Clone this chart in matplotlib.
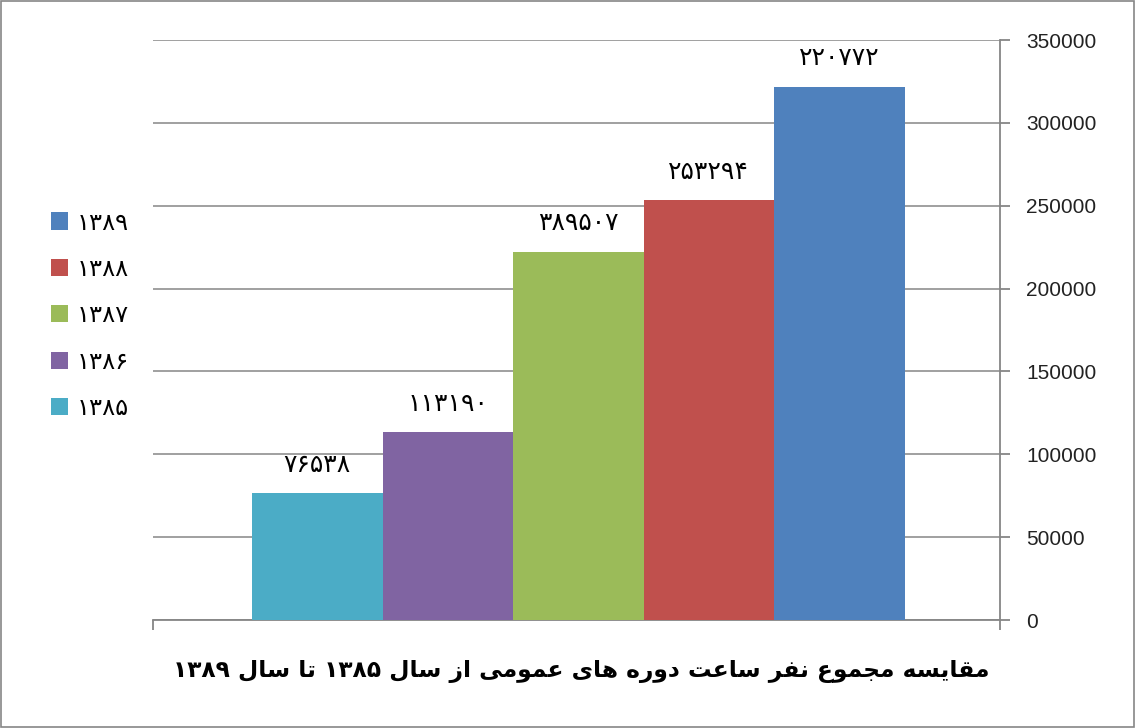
import matplotlib
matplotlib.use("Agg")
import matplotlib.pyplot as plt
from matplotlib.patches import Rectangle

years = ["۱۳۸۵", "۱۳۸۶", "۱۳۸۷", "۱۳۸۸", "۱۳۸۹"]
values = [76538, 113190, 222300, 253294, 321700]
bar_labels = ["۷۶۵۳۸", "۱۱۳۱۹۰", "۳۸۹۵۰۷", "۲۵۳۲۹۴", "۲۲۰۷۷۲"]
colors = ["#4BACC6", "#8064A2", "#9BBB59", "#C0504D", "#4F81BD"]
yticks = [0, 50000, 100000, 150000, 200000, 250000, 300000, 350000]
title = "مقایسه مجموع نفر ساعت دوره های عمومی از سال ۱۳۸۵ تا سال ۱۳۸۹"

# contextual forms: isolated, final, initial, medial (None = does not join forward)
FORMS = {
    "ا": (0xFE8D, 0xFE8E, None, None),
    "ت": (0xFE95, 0xFE96, 0xFE97, 0xFE98),
    "ج": (0xFE9D, 0xFE9E, 0xFE9F, 0xFEA0),
    "د": (0xFEA9, 0xFEAA, None, None),
    "ر": (0xFEAD, 0xFEAE, None, None),
    "ز": (0xFEAF, 0xFEB0, None, None),
    "س": (0xFEB1, 0xFEB2, 0xFEB3, 0xFEB4),
    "ع": (0xFEC9, 0xFECA, 0xFECB, 0xFECC),
    "ف": (0xFED1, 0xFED2, 0xFED3, 0xFED4),
    "ق": (0xFED5, 0xFED6, 0xFED7, 0xFED8),
    "ل": (0xFEDD, 0xFEDE, 0xFEDF, 0xFEE0),
    "م": (0xFEE1, 0xFEE2, 0xFEE3, 0xFEE4),
    "ن": (0xFEE5, 0xFEE6, 0xFEE7, 0xFEE8),
    "ه": (0xFEE9, 0xFEEA, 0xFEEB, 0xFEEC),
    "و": (0xFEED, 0xFEEE, None, None),
    "ی": (0xFBFC, 0xFBFD, 0xFBFE, 0xFBFF),
}


def shape_word(word):
    out = []
    for i, ch in enumerate(word):
        if ch not in FORMS:
            out.append(ch)
            continue
        prev = word[i - 1] if i > 0 else None
        nxt = word[i + 1] if i + 1 < len(word) else None
        join_prev = prev in FORMS and FORMS[prev][2] is not None
        join_next = nxt in FORMS and FORMS[ch][2] is not None
        iso, fin, ini, med = FORMS[ch]
        if join_prev and join_next:
            out.append(chr(med))
        elif join_prev:
            out.append(chr(fin))
        elif join_next:
            out.append(chr(ini))
        else:
            out.append(chr(iso))
    return "".join(out)


def rtl(text):
    words = []
    for w in text.split(" "):
        if any(ch in FORMS for ch in w):
            words.append(shape_word(w)[::-1])
        else:
            words.append(w)
    return " ".join(words[::-1])


fig = plt.figure(figsize=(11.36, 7.28), dpi=100)
ax = fig.add_axes([153 / 1136, 1 - 620 / 728, 847 / 1136, 580 / 728])

x = list(range(len(years)))
bars = []
for i in x:
    b = ax.bar(i, values[i], width=1.0, color=colors[i], label=years[i], zorder=3)
    bars.append(b[0])
    ax.text(i, values[i] + 10000, bar_labels[i], ha="center", va="bottom",
            fontsize=18, family="DejaVu Sans", color="black")

ax.set_xlim(-1.258, 5.23)
ax.set_ylim(0, 350000)
ax.set_yticks(yticks)
ax.set_yticklabels([str(t) for t in yticks], fontsize=15, family="Liberation Sans",
                   color="#222222")
ax.yaxis.tick_right()
ax.yaxis.grid(True, color="#868686", linewidth=1.1, zorder=0)
ax.set_xticks([-1.258, 5.23])
ax.set_xticklabels([])
ax.tick_params(axis="x", direction="out", length=7, color="#868686", width=1.3)
ax.tick_params(axis="y", direction="out", length=7, color="#868686", width=1.3, pad=12)

for side in ["top", "left"]:
    ax.spines[side].set_visible(False)
for side in ["right", "bottom"]:
    ax.spines[side].set_color("#868686")
    ax.spines[side].set_linewidth(1.3)

handles = bars[::-1]
labels = years[::-1]
fig.legend(handles, labels, loc="center left", bbox_to_anchor=(0.026, 0.567),
           frameon=False, handlelength=0.7, handleheight=0.7,
           labelspacing=0.92, handletextpad=0.35,
           prop={"family": "DejaVu Sans", "size": 17.5})

fig.text(0.512, 0.077, rtl(title), ha="center", va="center",
         fontsize=16.8, fontweight="bold", family="DejaVu Sans")

fig.patches.append(Rectangle((0.0005, 0.0007), 0.998, 0.998, transform=fig.transFigure,
                             fill=False, edgecolor="#868686", linewidth=1.2))

fig.savefig("out.png", dpi=100)
